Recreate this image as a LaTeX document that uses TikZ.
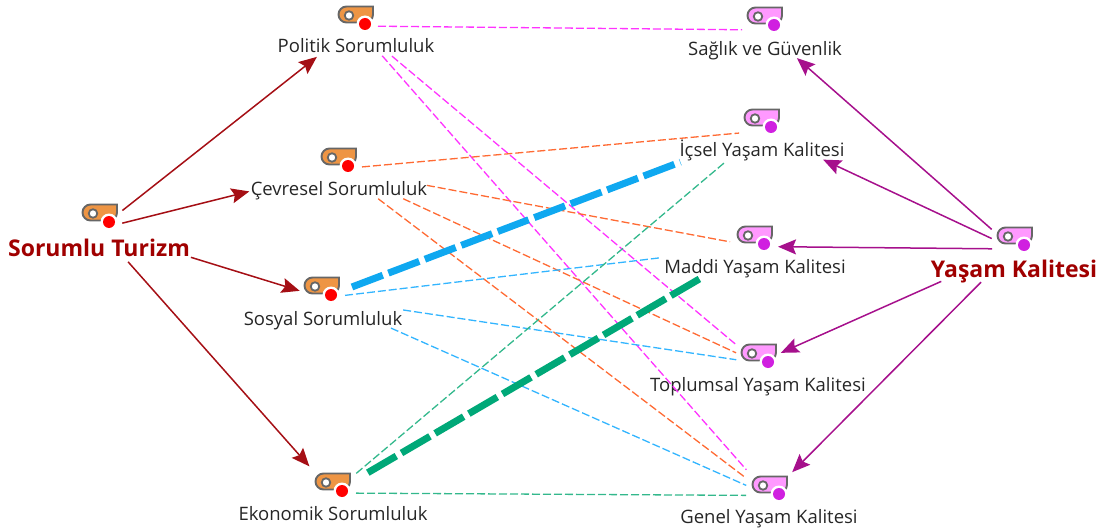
\documentclass[tikz,border=0pt]{standalone}
\usepackage{fontspec}
\setmainfont{Open Sans}
\usetikzlibrary{arrows.meta}
\definecolor{tagorange}{HTML}{EE9544}
\definecolor{tagpink}{HTML}{FF99FF}
\definecolor{dotred}{HTML}{FF0000}
\definecolor{dotpurple}{HTML}{D020E0}
\definecolor{tagline}{HTML}{666666}
\definecolor{darkred}{HTML}{A50F15}
\definecolor{titlered}{HTML}{A00000}
\definecolor{darkpurple}{HTML}{A6108C}
\definecolor{dashmagenta}{HTML}{FF33FF}
\definecolor{dashorange}{HTML}{FF6A33}
\definecolor{dashblue}{HTML}{33B5FF}
\definecolor{dashgreen}{HTML}{33B88C}
\definecolor{thickblue}{HTML}{0FA8F0}
\definecolor{thickgreen}{HTML}{00A878}
\newcommand{\tagicon}[4]{%
  \begin{scope}[shift={(#2)}]
    \draw[line width=1.9pt,draw=tagline,fill=#3,rounded corners=8pt]
      (35,0.5) -- (0.5,0.5) -- (0.5,16.5) -- (35,16.5) [sharp corners] -- (35,0.5) -- cycle;
    \node[tagring] (#1R) at (27,18) {};
    \node[taghole] (#1H) at (11,9.5) {};
    \node[tagdot,fill=#4] (#1D) at (27,18) {};
  \end{scope}}

\begin{document}
\begin{tikzpicture}[x=1pt,y=-1pt,line cap=butt]
  \tikzstyle{tagring}=[circle,fill=white,inner sep=0pt,minimum size=17pt]
  \tikzstyle{taghole}=[circle,fill=white,draw=tagline,line width=1.8pt,inner sep=0pt,minimum size=8.5pt]
  \tikzstyle{tagdot}=[circle,inner sep=0pt,minimum size=12pt]
  \tikzstyle{hub}=[inner sep=0pt,outer sep=0pt,minimum size=0pt]
  \tikzstyle{lbl}=[text=black!85,inner sep=0pt,anchor=base,font=\fontsize{18.5}{21}\selectfont]
  \tikzstyle{title}=[text=titlered,inner sep=0pt,anchor=base,font=\fontsize{23}{27}\selectfont\bfseries]
  \tikzstyle{redarrow}=[draw=darkred,line width=1.5pt,-{Stealth[length=18pt,width=15pt,inset=3pt]}]
  \tikzstyle{purplearrow}=[draw=darkpurple,line width=1.5pt,-{Stealth[length=18pt,width=15pt,inset=3pt]}]
  \tikzstyle{thin}=[line width=1.3pt,dash pattern=on 8pt off 3pt]
  \tikzstyle{fat}=[line width=7pt,dash pattern=on 33pt off 6pt]
  \useasboundingbox (0,0) rectangle (1101,532);

  % left side
  \node[hub] (sor) at (99,229) {};
  \node[hub] (pol) at (356,26) {};
  \node[hub] (cev) at (339,169) {};
  \node[hub] (sos) at (323,298) {};
  \node[hub] (eko) at (333,493) {};
  % right side
  \node[hub] (yas) at (1014,249) {};
  \node[hub] (sag) at (765,30) {};
  \node[hub] (ice) at (762,131) {};
  \node[hub] (mad) at (755,246.5) {};
  \node[hub] (top) at (758,363) {};
  \node[hub] (gen) at (769,495.5) {};

  \tagicon{sor}{82,204}{tagorange}{dotred}
  \tagicon{pol}{338,6}{tagorange}{dotred}
  \tagicon{cev}{321,148}{tagorange}{dotred}
  \tagicon{sos}{304,277}{tagorange}{dotred}
  \tagicon{eko}{315,473}{tagorange}{dotred}
  \tagicon{yas}{997,227}{tagpink}{dotpurple}
  \tagicon{sag}{747,7}{tagpink}{dotpurple}
  \tagicon{ice}{744,109}{tagpink}{dotpurple}
  \tagicon{mad}{737,226}{tagpink}{dotpurple}
  \tagicon{top}{741,344}{tagpink}{dotpurple}
  \tagicon{gen}{752,476}{tagpink}{dotpurple}

  \node[title] (sorL) at (99,256) {Sorumlu Turizm};
  \node[lbl] (polL) at (356,53) {Politik Sorumluluk};
  \node[lbl] (cevL) at (339,196) {Çevresel Sorumluluk};
  \node[lbl] (sosL) at (323,325) {Sosyal Sorumluluk};
  \node[lbl] (ekoL) at (333,520) {Ekonomik Sorumluluk};
  \node[title] (yasL) at (1014,277) {Yaşam Kalitesi};
  \node[lbl] (sagL) at (765,56) {Sağlık ve Güvenlik};
  \node[lbl] (iceL) at (762,157) {İçsel Yaşam Kalitesi};
  \node[lbl] (madL) at (755,273) {Maddi Yaşam Kalitesi};
  \node[lbl] (topL) at (758,391) {Toplumsal Yaşam Kalitesi};
  \node[lbl] (genL) at (769,523) {Genel Yaşam Kalitesi};

  \path (sor) edge[redarrow,shorten <=29.8pt,shorten >=49.8pt] (pol)
              edge[redarrow,shorten <=24pt,shorten >=92.4pt] (cev)
              edge[redarrow,shorten <=96.2pt,shorten >=24.4pt] (sos)
              edge[redarrow,shorten <=43.9pt,shorten >=35.6pt] (eko);
  \path (yas) edge[purplearrow,shorten <=29.7pt,shorten >=42.5pt] (sag)
              edge[purplearrow,shorten <=24.6pt,shorten >=67.5pt] (ice)
              edge[purplearrow,shorten <=22pt,shorten >=23pt] (mad)
              edge[purplearrow,shorten <=79.6pt,shorten >=25pt] (top)
              edge[purplearrow,shorten <=46.7pt,shorten >=32.9pt] (gen);

  \path (pol) edge[thin,draw=dashmagenta,shorten <=22pt,shorten >=23pt] (sag)
              edge[thin,draw=dashmagenta,shorten <=46.9pt,shorten >=29.8pt] (top)
              edge[thin,draw=dashmagenta,shorten <=39.7pt,shorten >=34.3pt] (gen);
  \path (cev) edge[thin,draw=dashorange,shorten <=23.1pt,shorten >=23pt] (ice)
              edge[thin,draw=dashorange,shorten <=89.4pt,shorten >=25.4pt] (mad)
              edge[thin,draw=dashorange,shorten <=70.7pt,shorten >=24.2pt] (top)
              edge[thin,draw=dashorange,shorten <=49.2pt,shorten >=30.3pt] (gen);
  \path (sos) edge[fat,draw=thickblue,shorten <=31pt,shorten >=87.3pt] (ice)
              edge[thin,draw=dashblue,shorten <=22.2pt,shorten >=94.5pt] (mad)
              edge[thin,draw=dashblue,shorten <=81pt,shorten >=22pt] (top)
              edge[thin,draw=dashblue,shorten <=74.3pt,shorten >=24.9pt] (gen);
  \path (eko) edge[thin,draw=dashgreen,shorten <=30.5pt,shorten >=46.9pt] (ice)
              edge[fat,draw=thickgreen,shorten <=40.3pt,shorten >=62.5pt] (mad)
              edge[thin,draw=dashgreen,shorten <=23pt,shorten >=23pt] (gen);
\end{tikzpicture}
\end{document}
